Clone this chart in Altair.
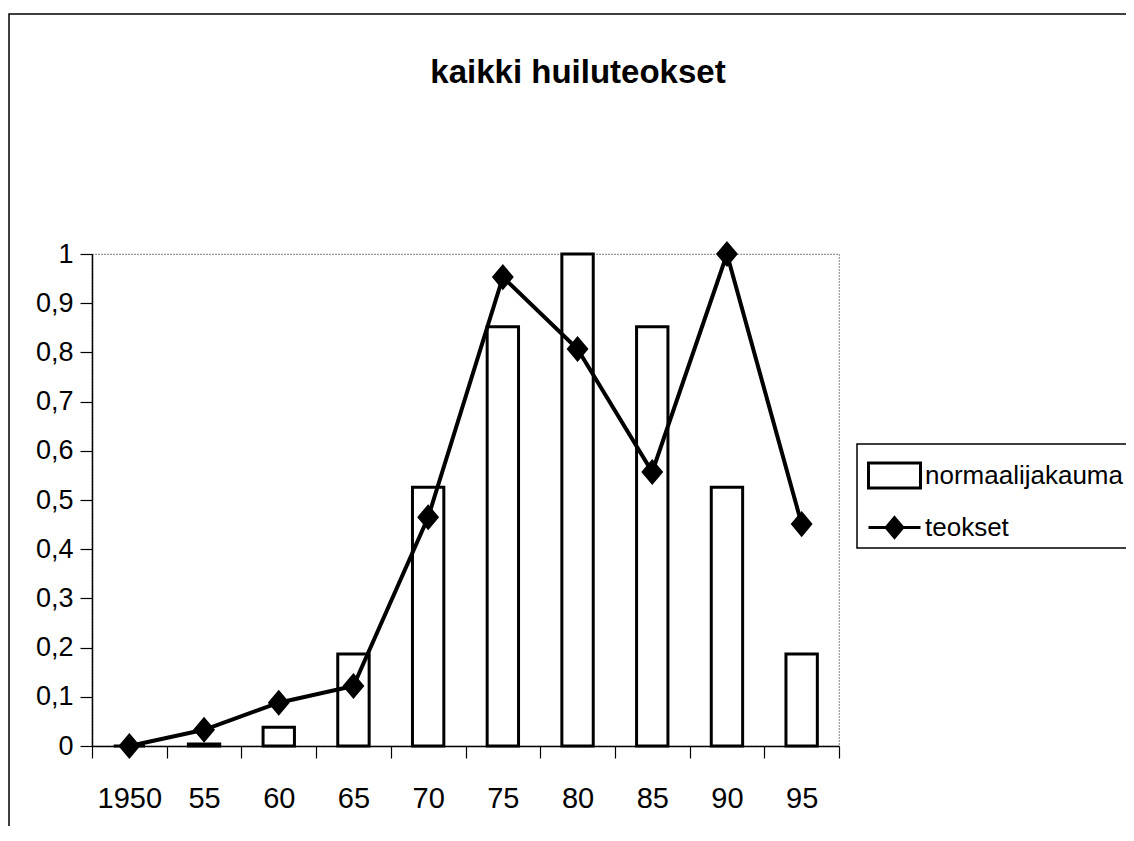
import altair as alt
import pandas as pd

# ---- data ----
years = ["1950", "55", "60", "65", "70", "75", "80", "85", "90", "95"]
normaalijakauma = [0.0, 0.004, 0.038, 0.187, 0.526, 0.852, 1.0, 0.852, 0.526, 0.187]
teokset = [0.0, 0.033, 0.088, 0.122, 0.465, 0.953, 0.807, 0.557, 1.0, 0.451]
series_names = ["normaalijakauma", "teokset"]
y_ticks = [0, 0.1, 0.2, 0.3, 0.4, 0.5, 0.6, 0.7, 0.8, 0.9, 1.0]
title_text = "kaikki huiluteokset"

df = pd.DataFrame({
    "year": years * 2,
    "value": normaalijakauma + teokset,
    "series": [series_names[0]] * len(years) + [series_names[1]] * len(years),
})

REG = "Liberation Sans, Arial"

rect_path = "M-1,-0.48H1V0.48H-1Z"
line_diamond_path = "M-1,0H1M0,-0.38L0.32,0L0,0.38L-0.32,0Z"

x_enc = alt.X(
    "year:N", sort=years,
    scale=alt.Scale(paddingInner=0, paddingOuter=0),
    axis=alt.Axis(title=None, tickBand="extent", labelAngle=0, grid=False,
                  labelFont=REG, labelFontSize=29, labelColor="black",
                  labelPadding=26, tickSize=12, tickColor="black", tickWidth=1.2,
                  domainColor="black", domainWidth=1.5),
)
y_enc = alt.Y(
    "value:Q",
    scale=alt.Scale(domain=[0, 1], nice=False),
    axis=alt.Axis(title=None, values=y_ticks, grid=False,
                  labelExpr="replace(format(datum.value, '.1~f'), '.', ',')",
                  labelFont=REG, labelFontSize=27, labelColor="black",
                  labelPadding=7, tickSize=12, tickColor="black", tickWidth=1.2,
                  domainColor="black", domainWidth=1.5),
)
fill_enc = alt.Fill("series:N",
                    scale=alt.Scale(domain=series_names, range=["white", "black"]),
                    legend=alt.Legend(title=None))
stroke_enc = alt.Stroke("series:N",
                        scale=alt.Scale(domain=series_names, range=["black", "black"]),
                        legend=alt.Legend(title=None))
shape_enc = alt.Shape("series:N",
                      scale=alt.Scale(domain=series_names, range=[rect_path, line_diamond_path]),
                      legend=alt.Legend(title=None))

base = alt.Chart(df)

bars = base.transform_filter(alt.datum.series == series_names[0]).mark_bar(
    strokeWidth=3, width={"band": 0.42}, opacity=1
).encode(x=x_enc, y=y_enc, fill=fill_enc, stroke=stroke_enc)

line = base.transform_filter(alt.datum.series == series_names[1]).mark_line(
    color="black", strokeWidth=4
).encode(x=x_enc, y=y_enc)

points = base.transform_filter(alt.datum.series == series_names[1]).mark_point(
    filled=True, size=4700, opacity=1
).encode(x=x_enc, y=y_enc, fill=fill_enc, shape=shape_enc)

frame = alt.Chart(pd.DataFrame({"k": [0]})).mark_rect(
    fillOpacity=0, stroke="black", strokeWidth=1.5
).encode(x=alt.value(-83), x2=alt.value(2000), y=alt.value(-240), y2=alt.value(2000))

title = alt.Chart(pd.DataFrame({"t": [title_text]})).mark_text(
    font=REG, fontSize=33, fontWeight="bold", color="black",
    align="center", baseline="alphabetic"
).encode(text="t:N", x=alt.value(486), y=alt.value(-171))

chart = alt.layer(frame, bars, line, points, title).properties(
    width=747, height=492,
    autosize=alt.AutoSizeParams(type="none"),
    padding={"left": 84, "top": 246, "right": 287, "bottom": 80},
    background="white",
).configure_view(
    stroke="#777777", strokeDash=[1.5, 1.5], strokeWidth=1.2
).configure_legend(
    orient="none", legendX=765, legendY=190,
    strokeColor="black", strokeWidth=1.5, fillColor="white",
    padding=4, symbolOffset=6, labelOffset=3, rowPadding=6,
    labelFont=REG, labelFontSize=26, labelColor="black", labelLimit=400,
    symbolSize=2704, symbolStrokeColor="black", symbolStrokeWidth=3,
    symbolOpacity=1, cornerRadius=0,
)

chart.save("out.html", embed_options={"renderer": "svg", "actions": False})
